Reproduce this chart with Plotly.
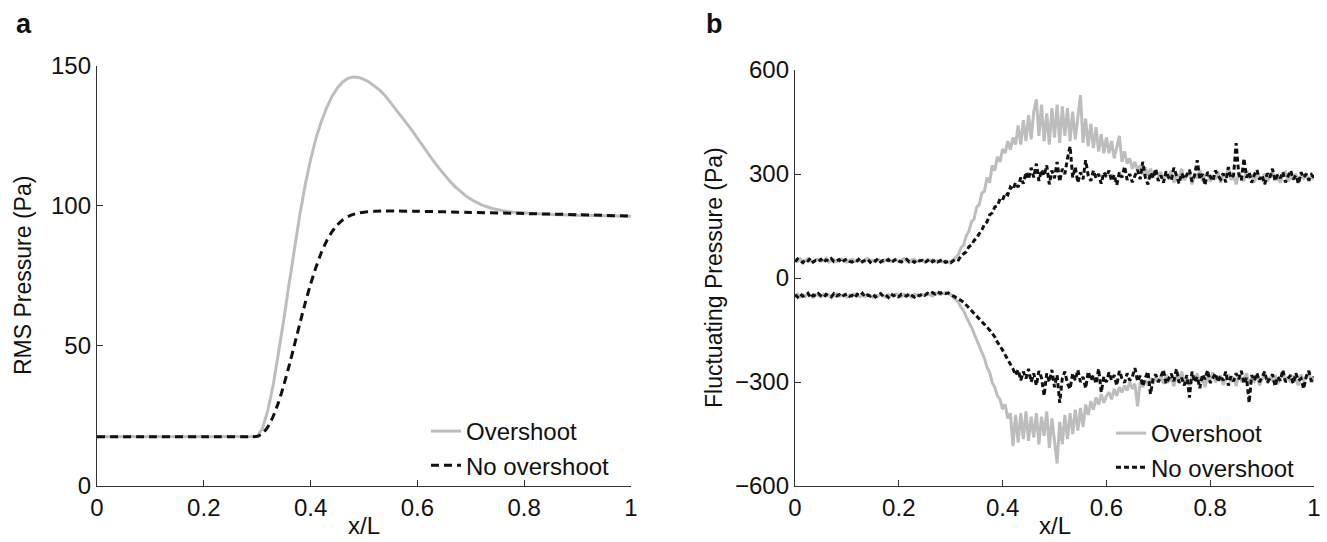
import plotly.graph_objects as go

# ---------------- Panel a: RMS pressure ----------------
xa_over = [0.0, 0.1, 0.2, 0.29, 0.30, 0.31, 0.32, 0.33, 0.34, 0.35, 0.36, 0.37, 0.38, 0.39,
           0.40, 0.41, 0.42, 0.43, 0.44, 0.45, 0.46, 0.47, 0.48, 0.49, 0.50, 0.51, 0.52,
           0.53, 0.54, 0.55, 0.56, 0.57, 0.58, 0.59, 0.60, 0.61, 0.62, 0.63, 0.64, 0.65,
           0.66, 0.67, 0.68, 0.69, 0.70, 0.72, 0.74, 0.76, 0.78, 0.80, 0.85, 0.90, 0.95, 1.0]
rms_over = [17.5, 17.5, 17.5, 17.5, 17.6, 20.5, 27, 36, 47, 59.5, 72.5, 85, 97, 107.5,
            116.5, 124, 130, 135, 139, 142, 144.2, 145.5, 146, 145.8, 145.1, 144.1, 142.8,
            141.2, 139.2, 136.8, 134.5, 132.1, 129.6, 126.9, 124.1, 121.3, 118.6, 116, 113.5, 111.1,
            108.9, 106.9, 105.1, 103.6, 102.3, 100.3, 99.0, 98.2, 97.7, 97.4, 96.9, 96.6, 96.4, 96.2]
xa_noover = [0.0, 0.1, 0.2, 0.29, 0.30, 0.31, 0.32, 0.33, 0.34, 0.35, 0.36, 0.37, 0.38, 0.39,
             0.40, 0.41, 0.42, 0.43, 0.44, 0.45, 0.46, 0.47, 0.48, 0.49, 0.50, 0.52, 0.54,
             0.56, 0.60, 0.70, 0.80, 0.90, 1.0]
rms_noover = [17.5, 17.5, 17.5, 17.5, 17.6, 18.6, 21, 24.8, 29.8, 36, 43, 50.5, 58, 65.3,
              72, 78, 83.2, 87.4, 90.7, 93.1, 94.9, 96.1, 96.9, 97.4, 97.7, 98.0, 98.1,
              98.1, 98.0, 97.6, 97.2, 96.8, 96.3]

# ---------------- Panel b: fluctuating pressure ----------------
xb = [0.0, 0.005, 0.01, 0.015, 0.02, 0.025, 0.03, 0.035, 0.04, 0.045,
      0.05, 0.055, 0.06, 0.065, 0.07, 0.075, 0.08, 0.085, 0.09, 0.095,
      0.1, 0.105, 0.11, 0.115, 0.12, 0.125, 0.13, 0.135, 0.14, 0.145,
      0.15, 0.155, 0.16, 0.165, 0.17, 0.175, 0.18, 0.185, 0.19, 0.195,
      0.2, 0.205, 0.21, 0.215, 0.22, 0.225, 0.23, 0.235, 0.24, 0.245,
      0.25, 0.255, 0.26, 0.265, 0.27, 0.275, 0.28, 0.285, 0.29, 0.295,
      0.3, 0.305, 0.31, 0.315, 0.32, 0.325, 0.33, 0.335, 0.34, 0.345,
      0.35, 0.355, 0.36, 0.365, 0.37, 0.375, 0.38, 0.385, 0.39, 0.395,
      0.4, 0.405, 0.41, 0.415, 0.42, 0.425, 0.43, 0.435, 0.44, 0.445,
      0.45, 0.455, 0.46, 0.465, 0.47, 0.475, 0.48, 0.485, 0.49, 0.495,
      0.5, 0.505, 0.51, 0.515, 0.52, 0.525, 0.53, 0.535, 0.54, 0.545,
      0.55, 0.555, 0.56, 0.565, 0.57, 0.575, 0.58, 0.585, 0.59, 0.595,
      0.6, 0.605, 0.61, 0.615, 0.62, 0.625, 0.63, 0.635, 0.64, 0.645,
      0.65, 0.655, 0.66, 0.665, 0.67, 0.675, 0.68, 0.685, 0.69, 0.695,
      0.7, 0.705, 0.71, 0.715, 0.72, 0.725, 0.73, 0.735, 0.74, 0.745,
      0.75, 0.755, 0.76, 0.765, 0.77, 0.775, 0.78, 0.785, 0.79, 0.795,
      0.8, 0.805, 0.81, 0.815, 0.82, 0.825, 0.83, 0.835, 0.84, 0.845,
      0.85, 0.855, 0.86, 0.865, 0.87, 0.875, 0.88, 0.885, 0.89, 0.895,
      0.9, 0.905, 0.91, 0.915, 0.92, 0.925, 0.93, 0.935, 0.94, 0.945,
      0.95, 0.955, 0.96, 0.965, 0.97, 0.975, 0.98, 0.985, 0.99, 0.995,
      1.0]

over_upper = [52, 48, 55, 47, 51, 56, 49, 45, 52, 54,
              48, 50, 57, 46, 50, 53, 47, 52, 55, 49,
              46, 51, 54, 48, 52, 50, 45, 53, 56, 49,
              51, 47, 54, 50, 46, 52, 55, 48, 50, 53,
              47, 51, 56, 49, 45, 52, 54, 48, 51, 50,
              46, 53, 49, 52, 47, 50, 48, 46, 49, 45,
              48, 52, 60, 68, 88, 95, 122, 135, 162, 170,
              205, 212, 245, 250, 290, 275, 325, 310, 350, 335,
              372, 360, 395, 370, 405, 385, 440, 385, 455, 395,
              470, 400, 480, 515, 410, 500, 395, 475, 385, 490,
              405, 500, 390, 495, 410, 490, 395, 480, 400, 475,
              528, 390, 460, 380, 445, 375, 435, 365, 415, 360,
              405, 360, 395, 345, 380, 410, 335, 365, 330, 345,
              315, 335, 310, 325, 300, 320, 295, 315, 290, 310,
              295, 305, 280, 300, 285, 310, 275, 298, 290, 315,
              282, 292, 305, 270, 300, 288, 312, 280, 295, 302,
              278, 296, 285, 308, 275, 300, 290, 318, 283, 295,
              270, 305, 292, 280, 310, 287, 298, 276, 302, 290,
              285, 300, 278, 295, 308, 282, 290, 275, 298, 305,
              280, 292, 286, 300, 274, 296, 288, 302, 279, 293,
              285]

noover_upper = [47, 55, 50, 44, 53, 49, 57, 46, 51, 48,
                54, 45, 52, 49, 56, 47, 50, 53, 44, 51,
                55, 48, 46, 52, 49, 57, 47, 50, 54, 45,
                52, 49, 56, 46, 51, 48, 53, 44, 50, 55,
                49, 46, 52, 54, 47, 50, 45, 53, 49, 51,
                44, 50, 55, 47, 52, 46, 49, 54, 45, 48,
                44, 50, 55, 52, 64, 70, 76, 90, 95, 108,
                115, 128, 138, 155, 162, 182, 188, 205, 208, 228,
                225, 245, 240, 262, 255, 275, 262, 290, 272, 305,
                285, 318, 290, 330, 280, 312, 295, 325, 270, 310,
                288, 335, 278, 315, 300, 345, 380, 290, 320, 275,
                305, 285, 340, 295, 280, 310, 288, 300, 272, 305,
                292, 310, 280, 298, 268, 305, 290, 322, 283, 300,
                276, 295, 312, 285, 335, 290, 270, 304, 288, 315,
                280, 296, 275, 308, 290, 282, 318, 295, 272, 302,
                286, 298, 312, 278, 296, 340, 285, 300, 268, 306,
                292, 280, 310, 295, 285, 302, 276, 320, 288, 296,
                389, 300, 282, 345, 290, 305, 275, 298, 312, 284,
                296, 270, 302, 290, 315, 280, 298, 288, 306, 276,
                294, 310, 285, 296, 272, 305, 290, 300, 282, 298,
                290]

over_lower = [-52, -47, -55, -49, -53, -46, -51, -56, -48, -50,
              -54, -47, -52, -49, -57, -50, -46, -53, -51, -48,
              -55, -49, -52, -46, -50, -54, -48, -53, -47, -51,
              -56, -49, -52, -47, -51, -55, -48, -50, -53, -46,
              -51, -54, -48, -52, -49, -55, -47, -50, -53, -48,
              -51, -46, -49, -52, -47, -44, -48, -45, -42, -46,
              -48, -55, -62, -70, -85, -95, -112, -125, -142, -160,
              -178, -195, -218, -232, -258, -272, -302, -315, -340, -350,
              -378, -365, -405, -390, -485, -395, -475, -390, -465, -385,
              -470, -400, -460, -390, -480, -400, -455, -385, -490, -405,
              -470, -535, -415, -480, -395, -465, -390, -450, -380, -440,
              -375, -430, -365, -395, -355, -380, -345, -365, -335, -360,
              -340, -330, -350, -320, -340, -315, -330, -310, -325, -300,
              -320, -305, -370, -300, -315, -295, -310, -290, -305, -285,
              -300, -285, -305, -278, -298, -290, -312, -280, -295, -270,
              -300, -288, -310, -282, -296, -275, -302, -290, -315, -284,
              -298, -272, -300, -290, -282, -308, -295, -278, -300, -286,
              -312, -280, -296, -290, -275, -305, -288, -298, -282, -310,
              -292, -276, -300, -288, -295, -280, -306, -290, -272, -298,
              -285, -300, -282, -292, -310, -278, -296, -288, -270, -302,
              -285]

noover_lower = [-48, -55, -46, -53, -50, -44, -57, -49, -52, -45,
                -51, -56, -47, -50, -54, -45, -52, -48, -55, -49,
                -46, -53, -50, -57, -47, -51, -44, -54, -49, -52,
                -47, -55, -50, -45, -53, -49, -56, -46, -51, -48,
                -54, -47, -50, -52, -45, -49, -55, -48, -51, -46,
                -50, -44, -47, -42, -46, -40, -44, -41, -45, -43,
                -47, -52, -55, -60, -65, -70, -78, -85, -92, -100,
                -110, -118, -125, -134, -140, -150, -160, -170, -185, -195,
                -208, -222, -235, -250, -262, -280, -265, -295, -270, -290,
                -262, -300, -275, -310, -268, -288, -340, -275, -300, -265,
                -315, -280, -360, -290, -270, -305, -320, -275, -295, -265,
                -300, -285, -318, -270, -295, -280, -305, -262, -330, -285,
                -300, -272, -295, -280, -310, -268, -290, -302, -275, -296,
                -285, -260, -298, -282, -312, -288, -270, -335, -290, -278,
                -300, -284, -265, -305, -290, -276, -298, -262, -302, -288,
                -310, -280, -345, -270, -300, -285, -318, -278, -292, -266,
                -303, -288, -275, -300, -282, -296, -270, -310, -284, -298,
                -275, -292, -268, -305, -288, -360, -280, -296, -274, -300,
                -286, -270, -302, -290, -278, -312, -285, -296, -265, -300,
                -288, -280, -305, -275, -296, -290, -320, -284, -268, -298,
                -285]

GRAY = "#bdbdbd"
BLACK = "#111111"
FONT = "Liberation Sans, Arial, Helvetica, sans-serif"
DASH_A = "8px,5px"
DASH_B = "5px,3px"
W, H = 1327, 542

fig = go.Figure()

fig.add_trace(go.Scatter(x=xa_over, y=rms_over, mode="lines", name="Overshoot",
                         line=dict(color=GRAY, width=3),
                         xaxis="x", yaxis="y", legend="legend"))
fig.add_trace(go.Scatter(x=xa_noover, y=rms_noover, mode="lines", name="No overshoot",
                         line=dict(color=BLACK, width=3, dash=DASH_A, shape="spline", smoothing=0.5),
                         xaxis="x", yaxis="y", legend="legend"))

fig.add_trace(go.Scatter(x=xb, y=over_upper, mode="lines", name="Overshoot",
                         line=dict(color=GRAY, width=3), xaxis="x2", yaxis="y2",
                         legend="legend2"))
fig.add_trace(go.Scatter(x=xb, y=over_lower, mode="lines", name="Overshoot",
                         line=dict(color=GRAY, width=3), xaxis="x2", yaxis="y2",
                         legend="legend2", showlegend=False))
fig.add_trace(go.Scatter(x=xb, y=noover_upper, mode="lines", name="No overshoot",
                         line=dict(color=BLACK, width=3, dash=DASH_B), xaxis="x2", yaxis="y2",
                         legend="legend2"))
fig.add_trace(go.Scatter(x=xb, y=noover_lower, mode="lines", name="No overshoot",
                         line=dict(color=BLACK, width=3, dash=DASH_B), xaxis="x2", yaxis="y2",
                         legend="legend2", showlegend=False))


def px_x(p):
    return p / W


def px_y(p):
    return 1 - p / H


axis_common = dict(showgrid=False, zeroline=False, showline=True, linecolor="#333333",
                   linewidth=1.3, ticks="inside", ticklen=6, tickwidth=1.3, tickcolor="#333333",
                   tickfont=dict(family=FONT, size=24, color="#111111"), automargin=False,
                   mirror=False)

fig.update_layout(
    width=W, height=H, margin=dict(l=0, r=0, t=0, b=0),
    paper_bgcolor="white", plot_bgcolor="white",
    font=dict(family=FONT, size=24, color="#111111"),
    xaxis=dict(domain=[px_x(97), px_x(631)], range=[0, 1], anchor="y",
               tickvals=[0, 0.2, 0.4, 0.6, 0.8, 1.0],
               ticktext=["0", "0.2", "0.4", "0.6", "0.8", "1"], **axis_common),
    yaxis=dict(domain=[px_y(485.7), px_y(65.7)], range=[0, 150], anchor="x",
               tickvals=[0, 50, 100, 150], ticktext=["0", "50", "100", "150"], **axis_common),
    xaxis2=dict(domain=[px_x(795), px_x(1314)], range=[0, 1], anchor="y2",
                tickvals=[0, 0.2, 0.4, 0.6, 0.8, 1.0],
                ticktext=["0", "0.2", "0.4", "0.6", "0.8", "1"], **axis_common),
    yaxis2=dict(domain=[px_y(486), px_y(70)], range=[-600, 600], anchor="x2",
                tickvals=[-600, -300, 0, 300, 600],
                ticktext=["\u2212600", "\u2212300", "0", "300", "600"], **axis_common),
    legend=dict(x=px_x(426), y=px_y(409), xanchor="left", yanchor="top",
                bgcolor="rgba(0,0,0,0)", borderwidth=0,
                font=dict(family=FONT, size=24, color="#111111"), tracegroupgap=0),
    legend2=dict(x=px_x(1111), y=px_y(411), xanchor="left", yanchor="top",
                 bgcolor="rgba(0,0,0,0)", borderwidth=0,
                 font=dict(family=FONT, size=24, color="#111111"), tracegroupgap=0),
    showlegend=True,
)

ann_font = dict(family=FONT, size=23, color="#111111")
fig.add_annotation(text="<b>a</b>", x=px_x(14), y=px_y(24), xref="paper", yref="paper",
                   xanchor="left", yanchor="middle", showarrow=False,
                   font=dict(family=FONT, size=27, color="#111111"))
fig.add_annotation(text="<b>b</b>", x=px_x(704), y=px_y(24), xref="paper", yref="paper",
                   xanchor="left", yanchor="middle", showarrow=False,
                   font=dict(family=FONT, size=27, color="#111111"))
fig.add_annotation(text="RMS Pressure (Pa)", x=px_x(23), y=px_y(276), xref="paper",
                   yref="paper", xanchor="center", yanchor="middle", showarrow=False,
                   textangle=-90, font=ann_font)
fig.add_annotation(text="Fluctuating Pressure (Pa)", x=px_x(714), y=px_y(278), xref="paper",
                   yref="paper", xanchor="center", yanchor="middle", showarrow=False,
                   textangle=-90, font=ann_font)
fig.add_annotation(text="x/L", x=px_x(364), y=px_y(525), xref="paper", yref="paper",
                   xanchor="center", yanchor="middle", showarrow=False,
                   font=dict(family=FONT, size=24, color="#111111"))
fig.add_annotation(text="x/L", x=px_x(1054.5), y=px_y(525), xref="paper", yref="paper",
                   xanchor="center", yanchor="middle", showarrow=False,
                   font=dict(family=FONT, size=24, color="#111111"))

fig.write_html("out.html")
